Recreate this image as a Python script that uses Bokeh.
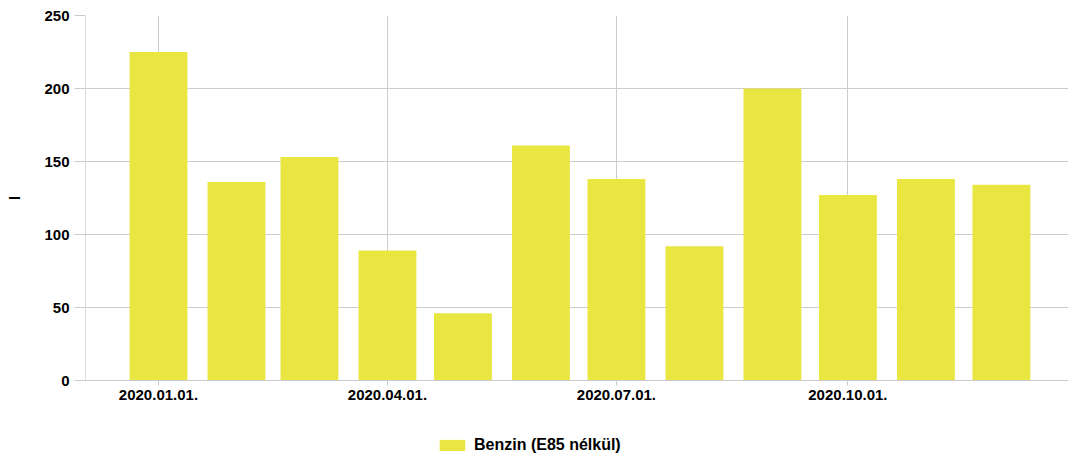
from datetime import datetime, timedelta
from bokeh.plotting import figure
from bokeh.layouts import column
from bokeh.models import ColumnDataSource, Range1d, FixedTicker, DatetimeTickFormatter, Legend, LegendItem
from bokeh.embed import file_html
from bokeh.resources import INLINE

months = ["2020-01-01", "2020-02-01", "2020-03-01", "2020-04-01", "2020-05-01", "2020-06-01",
          "2020-07-01", "2020-08-01", "2020-09-01", "2020-10-01", "2020-11-01", "2020-12-01"]
values = [225, 136, 153, 89, 46, 161, 138, 92, 200, 127, 138, 134]
tick_dates = ["2020-01-01", "2020-04-01", "2020-07-01", "2020-10-01"]
series_name = "Benzin (E85 nélkül)"
y_label = "l"

dates = [datetime.strptime(m, "%Y-%m-%d") for m in months]
src = ColumnDataSource(dict(x=dates, top=values))

EPOCH = datetime(1970, 1, 1)
def ms(d):
    return (d - EPOCH).total_seconds() * 1000.0

FONT = "Liberation Sans"
GRID = "#cccccc"
BAR = "#e9e642"
BAR_W = 23 * 86400000
X_RANGE = (datetime(2019, 12, 3), datetime(2020, 12, 27, 16))

p = figure(frame_width=983, frame_height=365, output_backend="svg", toolbar_location=None,
           x_axis_type="datetime",
           x_range=Range1d(*X_RANGE),
           y_range=Range1d(0, 250),
           min_border_left=85, min_border_right=0, min_border_top=15, min_border_bottom=0)
p.outline_line_color = None
p.background_fill_color = "white"

r = p.vbar(x="x", top="top", width=BAR_W, source=src, fill_color=BAR, line_color=None)

p.xaxis.ticker = FixedTicker(ticks=[ms(datetime.strptime(t, "%Y-%m-%d")) for t in tick_dates])
p.xaxis.formatter = DatetimeTickFormatter(days="%Y.%m.%d.", months="%Y.%m.%d.", years="%Y.%m.%d.")
p.yaxis.ticker = FixedTicker(ticks=[0, 50, 100, 150, 200, 250])

for ax in (p.xaxis[0], p.yaxis[0]):
    ax.major_label_text_font = FONT
    ax.major_label_text_font_style = "bold"
    ax.major_label_text_font_size = "15px"
    ax.major_label_text_color = "#000000"
    ax.axis_line_color = GRID
    ax.major_tick_line_color = GRID
    ax.minor_tick_line_color = None
    ax.major_tick_in = 0

p.xaxis.major_tick_out = 5
p.xaxis.major_label_standoff = 4
p.yaxis.major_tick_out = 11
p.yaxis.major_label_standoff = 5
p.yaxis.axis_line_color = "#dddddd"

p.yaxis.axis_label = y_label
p.yaxis.axis_label_text_font = FONT
p.yaxis.axis_label_text_font_style = "bold"
p.yaxis.axis_label_text_font_size = "15px"
p.yaxis.axis_label_text_color = "#000000"
p.yaxis.axis_label_standoff = 18

p.xgrid.grid_line_color = GRID
p.ygrid.grid_line_color = GRID
p.xgrid.ticker = p.xaxis.ticker
p.ygrid.ticker = p.yaxis.ticker

# legend strip below the chart (same series; its view range is far from the data)
lf = figure(width=1068, height=52, output_backend="svg", toolbar_location=None,
            x_axis_type="datetime",
            x_range=Range1d(datetime(2030, 1, 1), datetime(2031, 1, 1)), y_range=Range1d(-200, -100),
            x_axis_location=None, y_axis_location=None,
            min_border_left=0, min_border_right=0, min_border_top=0, min_border_bottom=0)
lf.outline_line_color = None
lf.xgrid.visible = False
lf.ygrid.visible = False
lr = lf.vbar(x="x", top="top", width=BAR_W, source=src, fill_color=BAR, line_color=None)

legend = Legend(items=[LegendItem(label=series_name, renderers=[lr])],
                location=(351, 0), orientation="horizontal",
                label_text_font=FONT, label_text_font_style="bold",
                label_text_font_size="16px", label_text_color="#000000",
                glyph_width=32, glyph_height=14, label_standoff=6,
                border_line_color=None, background_fill_alpha=0,
                margin=0, padding=0)
lf.add_layout(legend, "center")

open("out.html", "w").write(file_html(column(p, lf), INLINE))
